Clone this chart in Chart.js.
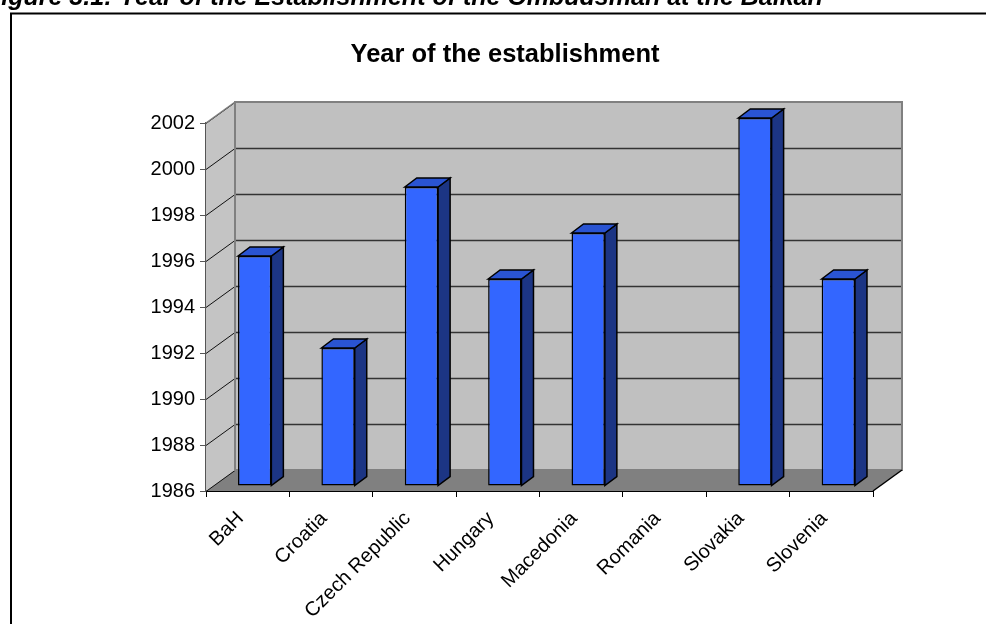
<!DOCTYPE html>
<html>
<head>
<meta charset="utf-8">
<script src="https://cdn.jsdelivr.net/npm/chart.js@4/dist/chart.umd.min.js"></script>
<style>
  html, body { margin: 0; padding: 0; background: #fff; }
  canvas { display: block; }
</style>
</head>
<body>
<canvas id="chart" width="986" height="624"></canvas>
<script>
const categories = ['BaH', 'Croatia', 'Czech Republic', 'Hungary', 'Macedonia', 'Romania', 'Slovakia', 'Slovenia'];
const establishedYear = [1996, 1992, 1999, 1995, 1997, null, 2002, 1995];
const yearTicks = [1986, 1988, 1990, 1992, 1994, 1996, 1998, 2000, 2002];
const chartTitle = 'Year of the establishment';
const figureCaption = 'Figure 3.1: Year of the Establishment of the Ombudsman at the Balkan';

const FONT = "'Liberation Sans', Arial, Helvetica, sans-serif";
// oblique projection: how far the back wall sits from the front plane
const WALL_DX = 29, WALL_DY = -21;
// the bars stand slightly behind the front plane
const BAR_DX = 7, BAR_DY = -5;
// depth of each bar's side and top faces
const FACE_DX = 12, FACE_DY = -9;

const COLORS = {
  wall: '#c0c0c0',
  sideWall: '#c4c4c4',
  floor: '#808080',
  wallEdge: '#808080',
  grid: '#333333',
  barFront: '#3366ff',
  barSide: '#1c3584',
  barTop: '#2a54d2',
  outline: '#000000'
};

function line(ctx, x1, y1, x2, y2) {
  ctx.beginPath();
  ctx.moveTo(x1, y1);
  ctx.lineTo(x2, y2);
  ctx.stroke();
}

function poly(ctx, pts) {
  ctx.beginPath();
  ctx.moveTo(pts[0][0], pts[0][1]);
  for (let i = 1; i < pts.length; i++) ctx.lineTo(pts[i][0], pts[i][1]);
  ctx.closePath();
}

// Walls, floor and grid of the 3D box, then shift the bars back a little
const box3d = {
  id: 'box3d',
  beforeDatasetsDraw(chart) {
    const { ctx, chartArea: a, scales: { y } } = chart;
    const L = a.left, R = a.right, T = a.top, B = a.bottom;
    ctx.save();
    // back wall
    ctx.fillStyle = COLORS.wall;
    ctx.fillRect(L + WALL_DX, T + WALL_DY, R - L, B - T);
    // left side wall
    ctx.fillStyle = COLORS.sideWall;
    poly(ctx, [[L, T], [L + WALL_DX, T + WALL_DY], [L + WALL_DX, B + WALL_DY], [L, B]]);
    ctx.fill();
    // floor
    ctx.fillStyle = COLORS.floor;
    poly(ctx, [[L, B], [R, B], [R + WALL_DX, B + WALL_DY], [L + WALL_DX, B + WALL_DY]]);
    ctx.fill();

    // gridlines across the back wall and the side wall
    yearTicks.forEach(v => {
      const py = Math.round(y.getPixelForValue(v)) + 0.5;
      if (v > y.min && v < y.max) {
        ctx.strokeStyle = COLORS.grid;
        ctx.lineWidth = 1.3;
        line(ctx, L + WALL_DX, py + WALL_DY, R + WALL_DX, py + WALL_DY);
      }
      ctx.strokeStyle = '#111';
      ctx.lineWidth = 1;
      line(ctx, L, py, L + WALL_DX, py + WALL_DY);
    });

    // wall edges
    ctx.strokeStyle = COLORS.wallEdge;
    ctx.lineWidth = 2;
    ctx.strokeRect(L + WALL_DX, T + WALL_DY, R - L, B - T);
    ctx.lineWidth = 1.5;
    line(ctx, L, T, L + WALL_DX, T + WALL_DY);
    // right edge of the floor
    ctx.strokeStyle = '#000';
    ctx.lineWidth = 1.5;
    line(ctx, R, B, R + WALL_DX, B + WALL_DY);
    ctx.restore();

    // bars are drawn in the plane a bit behind the front edge
    ctx.save();
    ctx.translate(BAR_DX, BAR_DY);
  },
  afterDatasetsDraw(chart) {
    const { ctx } = chart;
    const meta = chart.getDatasetMeta(0);
    ctx.lineWidth = 1.5;
    ctx.strokeStyle = COLORS.outline;
    ctx.lineJoin = 'miter';
    meta.data.forEach((bar, i) => {
      if (establishedYear[i] == null) return;
      const { x, y, base, width } = bar.getProps(['x', 'y', 'base', 'width'], true);
      const left = x - width / 2, right = x + width / 2;
      // side face
      ctx.fillStyle = COLORS.barSide;
      poly(ctx, [[right, y], [right + FACE_DX, y + FACE_DY], [right + FACE_DX, base + FACE_DY], [right, base]]);
      ctx.fill();
      ctx.stroke();
      // top face
      ctx.fillStyle = COLORS.barTop;
      poly(ctx, [[left, y], [left + FACE_DX, y + FACE_DY], [right + FACE_DX, y + FACE_DY], [right, y]]);
      ctx.fill();
      ctx.stroke();
    });
    ctx.restore();
  },
  afterDraw(chart) {
    const { ctx } = chart;
    ctx.save();
    // frame around the chart
    ctx.strokeStyle = '#000';
    ctx.lineWidth = 2;
    ctx.beginPath();
    ctx.moveTo(11, 700);
    ctx.lineTo(11, 13.5);
    ctx.lineTo(1100, 13.5);
    ctx.stroke();
    // figure caption above the frame
    ctx.fillStyle = '#000';
    ctx.textAlign = 'left';
    ctx.textBaseline = 'alphabetic';
    ctx.font = "italic bold 25px " + FONT;
    ctx.fillText(figureCaption, -14, 5);
    // chart title
    ctx.textAlign = 'center';
    ctx.font = "bold 25.5px " + FONT;
    ctx.fillText(chartTitle, 505, 62);
    ctx.restore();
  }
};

new Chart(document.getElementById('chart'), {
  type: 'bar',
  data: {
    labels: categories,
    datasets: [{
      data: establishedYear,
      base: yearTicks[0],
      backgroundColor: COLORS.barFront,
      borderColor: COLORS.outline,
      borderWidth: 1.5,
      borderSkipped: false,
      barPercentage: 0.4,
      categoryPercentage: 1,
      clip: false
    }]
  },
  options: {
    responsive: false,
    animation: false,
    devicePixelRatio: 1,
    layout: { padding: { top: 123, right: 113, left: 0, bottom: 0 } },
    plugins: { legend: { display: false }, title: { display: false }, tooltip: { enabled: false } },
    scales: {
      x: {
        offset: true,
        grid: { display: true, drawOnChartArea: false, drawTicks: true, tickLength: 6, color: '#000', offset: true },
        border: { display: true, color: '#000', width: 2 },
        ticks: {
          color: '#000', font: { family: FONT, size: 20 },
          maxRotation: 45, minRotation: 45, autoSkip: false, padding: 10, labelOffset: -7
        },
        afterFit(s) { s.height = 133; s.paddingLeft = 0; s.paddingRight = 0; }
      },
      y: {
        min: 1986, max: 2002,
        afterBuildTicks(s) { s.ticks = yearTicks.map(v => ({ value: v })); },
        grid: { drawOnChartArea: false, drawTicks: true, tickLength: 6, color: '#555' },
        border: { display: true, color: '#555', width: 1.5 },
        ticks: { color: '#000', font: { family: FONT, size: 20 }, padding: 5, callback: v => String(v) },
        afterFit(s) { s.width = 206; }
      }
    }
  },
  plugins: [box3d]
});
</script>
</body>
</html>
